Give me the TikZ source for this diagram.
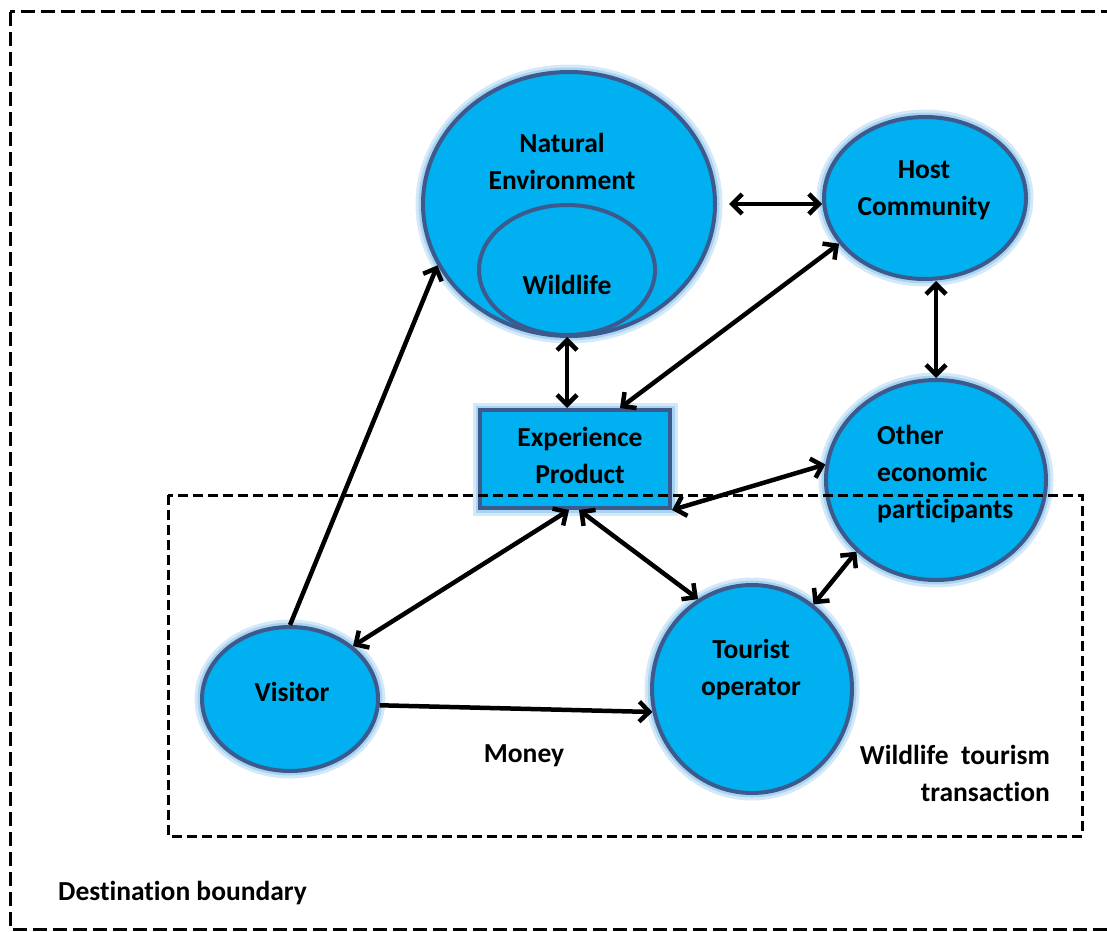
\documentclass[tikz,border=0pt]{standalone}
\usepackage{fontspec}
\setmainfont{Carlito}[Ligatures=NoCommon]
\usetikzlibrary{shapes.geometric,arrows.meta}

\definecolor{blobfill}{HTML}{00B0F0}
\definecolor{blobline}{HTML}{3C5A8C}
\definecolor{blobglow}{HTML}{A9D3F2}

\begin{document}
\begin{tikzpicture}[x=1pt, y=-1pt,
        >={Straight Barb[length=10pt,width=20pt,line width=4.5pt]},
        blob/.style={ellipse, draw=blobline, line width=4pt, fill=blobfill, inner sep=0pt,
            preaction={draw=blobglow!50, line width=15pt},
            preaction={draw=blobglow, line width=9pt}},
        lbl/.style={font=\bfseries\fontsize{27.5}{37}\selectfont, align=center, inner sep=0pt},
        link/.style={<->, line width=4.5pt},
        flow/.style={->, line width=4.5pt}]
        \useasboundingbox (0,0) rectangle (1107,931);
        \clip (0,0) rectangle (1107,931);

        % Circles
        \node[blob, minimum width=292pt, minimum height=264pt] (natenv) at (569,204) {};
        \node[ellipse, draw=blobline, line width=4pt, fill=blobfill, inner sep=0pt,
            minimum width=176pt, minimum height=130pt] (wild) at (567,270) {};
        \node[blob, minimum width=202pt, minimum height=162pt] (host) at (925,198) {};
        \node[blob, minimum width=220pt, minimum height=200pt] (other) at (936,480) {};
        \node[blob, minimum width=176pt, minimum height=144pt] (visitor) at (290,699) {};
        \node[blob, minimum width=200pt, minimum height=208pt] (tourist) at (752,689) {};
        \node[blob, rectangle, minimum width=190pt, minimum height=98pt] (exp) at (575,459) {};

        % Labels
        \node[lbl] (natenvtxt) at (562,161) {Natural\\Environment};
        \node[lbl] (wildtxt) at (567,285) {Wildlife};
        \node[lbl] (hosttxt) at (924,190) {Host\\Community};
        \node[lbl, anchor=west, align=left] (othertxt) at (877,474) {Other\\economic\\participants};
        \node[lbl] (exptxt) at (580,455) {Experience\\Product};
        \node[lbl] (visitortxt) at (292,692) {Visitor};
        \node[lbl] (touristtxt) at (751,670) {Tourist\\operator};
        \node[lbl] (money) at (524,756) {Money};
        \node[lbl, anchor=east, align=right] (transtxt) at (1050,773) {Wildlife\ \ tourism\\transaction};
        \node[lbl, anchor=west] (desttxt) at (58,893) {Destination boundary};

        % Arrows
        \draw[link, shorten <=12pt] (natenv.east) -- (natenv.east -| host.west);
        \draw[link] (wild.south) -- (wild.south |- exp.north);
        \draw[link] ([xshift=45pt]exp.north) -- (host.208);
        \draw[link] (other.north |- host.south) -- (other.north);
        \draw[link] (exp.south east) -- (other.172);
        \draw[link] ([xshift=-6pt]exp.south) -- (visitor.40);
        \draw[link] ([xshift=4pt]exp.south) -- (tourist.121);
        \draw[link] (other.222) -- (tourist.54);
        \draw[flow] (visitor.north) -- (natenv.205);
        \draw[flow] (visitor.-4) -- (tourist.193);

        % Boundaries
        \draw[line width=3pt, dash pattern=on 10pt off 5pt] (168,495) rectangle (1082,836);
        \draw[line width=3pt, dash pattern=on 14pt off 6pt] (10,12) rectangle (1125,929.5);
    \end{tikzpicture}
\end{document}
